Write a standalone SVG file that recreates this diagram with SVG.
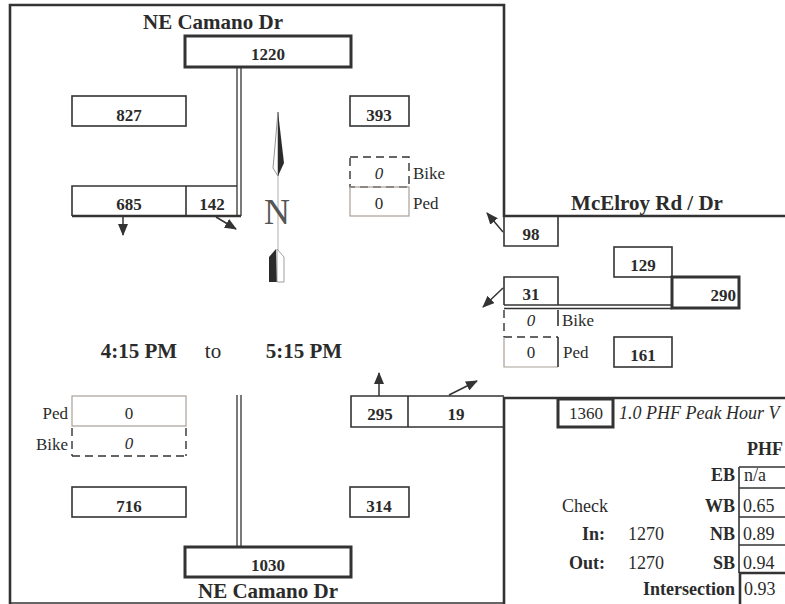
<svg xmlns="http://www.w3.org/2000/svg" width="785" height="604" viewBox="0 0 785 604">
<defs>
<style>
text{font-family:"Liberation Serif","Times New Roman",serif;fill:#2b2b2b}
.t{font-size:21px;font-weight:bold;text-anchor:middle}
.n{font-size:17px;font-weight:bold;text-anchor:middle}
.r{font-size:17px;text-anchor:middle}
.i{font-size:17px;font-style:italic;text-anchor:middle}
.l{font-size:17px}
.e{text-anchor:end}
.b{stroke:#333;stroke-width:1.6;fill:none}
.bt{stroke:#333;stroke-width:3;fill:none}
.p{stroke:#a8a098;stroke-width:1.2;fill:none}
.d{stroke:#333;stroke-width:1.4;fill:none;stroke-dasharray:8,5}
.w{stroke:#333;stroke-width:2.6;fill:none}
.rd{stroke:#333;stroke-width:1.3;fill:none}
.ar{stroke:#333;stroke-width:1.5;fill:none;marker-end:url(#ah)}
</style>
<marker id="ah" markerUnits="userSpaceOnUse" markerWidth="12" markerHeight="10" viewBox="0 0 12 10" refX="11" refY="5" orient="auto">
<path d="M0,0 L12,5 L0,10 Z" fill="#333"/>
</marker>
</defs>
<rect x="0" y="0" width="785" height="604" fill="#ffffff"/>

<g id="frame">
<polyline class="w" points="10,604 10,5 504,5 504,216 785,216"/>
<polyline class="w" points="504,604 504,398 785,398"/>
<line class="rd" x1="10" y1="603" x2="504" y2="603"/>
</g>

<g id="connectors">
<line class="rd" x1="237" y1="67" x2="237" y2="216"/>
<line class="rd" x1="241" y1="67" x2="241" y2="216"/>
<line class="rd" x1="237" y1="395" x2="237" y2="547"/>
<line class="rd" x1="241" y1="395" x2="241" y2="547"/>
<line class="rd" x1="504" y1="305" x2="672" y2="305"/>
<line class="rd" x1="504" y1="308.5" x2="672" y2="308.5"/>
<line class="ar" x1="123" y1="217" x2="123" y2="235"/>
<line class="ar" x1="216" y1="217" x2="236" y2="229"/>
<line class="ar" x1="503" y1="232" x2="487" y2="213"/>
<line class="ar" x1="503" y1="288" x2="483" y2="307"/>
<line class="ar" x1="379" y1="396" x2="379" y2="373"/>
<line class="ar" x1="449" y1="395" x2="477" y2="381"/>
</g>

<g id="title-north">
<text class="t" x="213" y="29">NE Camano Dr</text>
</g>
<g id="title-south">
<text class="t" x="268" y="598">NE Camano Dr</text>
</g>
<g id="title-east">
<text class="t" x="647" y="210">McElroy Rd / Dr</text>
</g>

<g id="box-1220"><rect class="bt" x="185" y="36" width="166" height="31"/><text class="n" x="268" y="60">1220</text></g>
<g id="box-827"><rect class="b" x="72" y="96" width="114" height="30"/><text class="n" x="129" y="121">827</text></g>
<g id="box-393"><rect class="b" x="350" y="96" width="59" height="30"/><text class="n" x="379" y="121">393</text></g>
<g id="box-685"><polyline class="b" points="237,186 72,186 72,216"/><line class="w" x1="72" y1="216" x2="241" y2="216"/><text class="n" x="129" y="210">685</text></g>
<g id="box-142"><line class="b" x1="186" y1="186" x2="186" y2="216"/><text class="n" x="212" y="210">142</text></g>

<g id="ne-bike"><rect class="d" x="350" y="157" width="59" height="30"/><text class="i" x="379" y="179">0</text><text class="l" x="413" y="179">Bike</text></g>
<g id="ne-ped"><rect class="p" x="350" y="187" width="59" height="29"/><text class="r" x="379" y="209">0</text><text class="l" x="413" y="209">Ped</text></g>

<g id="north-arrow">
<line x1="278" y1="112" x2="278" y2="252" stroke="#999" stroke-width="0.8"/>
<polygon points="278,112 273,168 278,176" fill="#fff" stroke="#777" stroke-width="0.8"/>
<polygon points="278,112 284,163 278,176" fill="#2b2b2b"/>
<text x="277" y="224" style="font-size:36px;text-anchor:middle;fill:#555">N</text>
<polygon points="269,257 276,249 277,282 269,282" fill="#2b2b2b"/>
<polygon points="277,249 284,257 284,282 277,282" fill="#fff" stroke="#888" stroke-width="0.8"/>
</g>

<g id="box-98"><polyline class="b" points="504,216 504,246 558,246 558,216"/><text class="n" x="531" y="240">98</text></g>
<g id="box-129"><rect class="b" x="614" y="247" width="58" height="30"/><text class="n" x="643" y="271">129</text></g>
<g id="box-31"><polyline class="b" points="504,305 504,277 558,277 558,305"/><text class="n" x="531" y="300">31</text></g>
<g id="box-290"><rect class="bt" x="672" y="277" width="67" height="31"/><text class="n e" x="736" y="301">290</text></g>
<g id="e-bike"><line class="d" x1="504" y1="310" x2="504" y2="337"/><line class="b" x1="558" y1="310" x2="558" y2="326"/><line class="d" x1="504" y1="337" x2="558" y2="337"/><text class="i" x="531" y="326">0</text><text class="l" x="562" y="326">Bike</text></g>
<g id="e-ped"><polyline class="p" points="504,337 504,367 558,367"/><line class="b" x1="558" y1="337" x2="558" y2="367"/><text class="r" x="531" y="358">0</text><text class="l" x="563" y="358">Ped</text></g>
<g id="box-161"><rect class="b" x="614" y="337" width="58" height="30"/><text class="n" x="643" y="361">161</text></g>

<g id="time">
<text x="139" y="358" style="font-size:21px;font-weight:bold;text-anchor:middle">4:15 PM</text>
<text x="213" y="358" style="font-size:21px;text-anchor:middle">to</text>
<text x="304" y="358" style="font-size:21px;font-weight:bold;text-anchor:middle">5:15 PM</text>
</g>

<g id="box-295"><polyline class="b" points="504,396 351,396 351,427 504,427"/><text class="n" x="380" y="420">295</text></g>
<g id="box-19"><line class="b" x1="408" y1="396" x2="408" y2="427"/><text class="n" x="456" y="420">19</text></g>

<g id="sw-ped"><rect class="p" x="72" y="396" width="114" height="30"/><text class="r" x="129" y="419">0</text><text class="l e" x="68" y="419">Ped</text></g>
<g id="sw-bike"><line class="d" x1="72" y1="428" x2="72" y2="456"/><line class="d" x1="186" y1="428" x2="186" y2="456"/><line class="d" x1="72" y1="456" x2="186" y2="456"/><text class="i" x="129" y="449">0</text><text class="l e" x="68" y="450">Bike</text></g>

<g id="box-716"><rect class="b" x="72" y="487" width="114" height="30"/><text class="n" x="129" y="512">716</text></g>
<g id="box-314"><rect class="b" x="350" y="487" width="59" height="30"/><text class="n" x="379" y="512">314</text></g>
<g id="box-1030"><rect class="bt" x="185" y="547" width="166" height="30"/><text class="n" x="268" y="571">1030</text></g>

<g id="total-1360"><rect class="bt" x="558" y="399" width="55" height="28"/><text class="r" x="586" y="419">1360</text><text x="619" y="419" style="font-size:18px;font-style:italic">1.0 PHF Peak Hour V</text></g>

<g id="phf-table">
<text x="765" y="455" style="font-size:18px;font-weight:bold;text-anchor:middle">PHF</text>
<line class="b" x1="739" y1="467" x2="739" y2="573"/>
<line class="b" x1="739" y1="467" x2="785" y2="467"/>
<line class="b" x1="739" y1="488" x2="785" y2="488"/>
<line class="b" x1="739" y1="517" x2="785" y2="517"/>
<line class="b" x1="739" y1="545" x2="785" y2="545"/>
<polyline class="w" points="740,604 740,573 785,573"/>
<text x="735" y="481" style="font-size:18px;font-weight:bold;text-anchor:end">EB</text>
<text x="744" y="481" style="font-size:18px">n/a</text>
<text x="735" y="512" style="font-size:18px;font-weight:bold;text-anchor:end">WB</text>
<text x="743" y="512" style="font-size:18px">0.65</text>
<text x="735" y="540" style="font-size:18px;font-weight:bold;text-anchor:end">NB</text>
<text x="743" y="540" style="font-size:18px">0.89</text>
<text x="735" y="569" style="font-size:18px;font-weight:bold;text-anchor:end">SB</text>
<text x="743" y="569" style="font-size:18px">0.94</text>
<text x="735" y="595" style="font-size:18px;font-weight:bold;text-anchor:end">Intersection</text>
<text x="744" y="595" style="font-size:18px">0.93</text>
<text x="562" y="512" style="font-size:18px">Check</text>
<text x="605" y="540" style="font-size:18px;font-weight:bold;text-anchor:end">In:</text>
<text x="628" y="540" style="font-size:18px">1270</text>
<text x="605" y="569" style="font-size:18px;font-weight:bold;text-anchor:end">Out:</text>
<text x="628" y="569" style="font-size:18px">1270</text>
</g>
</svg>
